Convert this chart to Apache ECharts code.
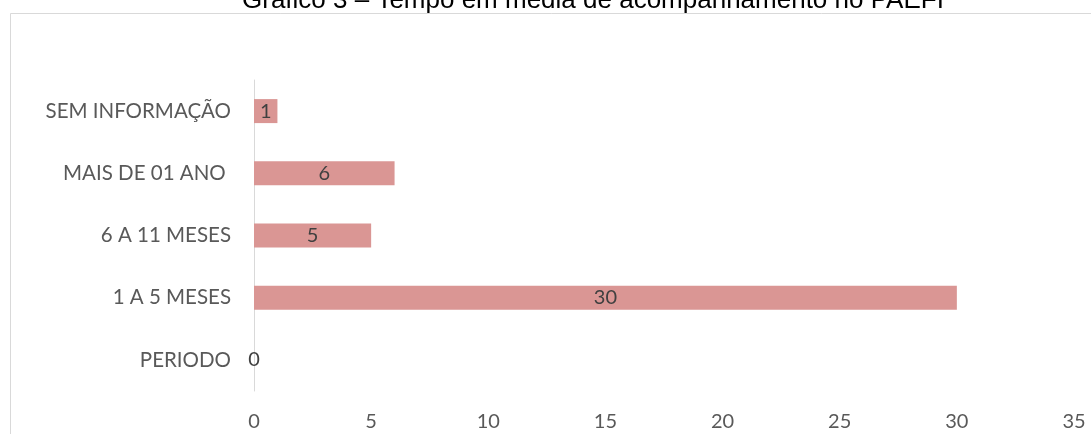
<!DOCTYPE html>
<html>
<head>
<meta charset="utf-8">
<script src="https://cdn.jsdelivr.net/npm/echarts@6/dist/echarts.min.js"></script>
<style>
html,body{margin:0;padding:0;background:#fff;}
#c{width:1091px;height:434px;}
</style>
</head>
<body>
<div id="c"></div>
<script>
const titleText = 'Gráfico 3 – Tempo em média de acompanhamento no PAEFI';
const categories = ['SEM INFORMAÇÃO', 'MAIS DE 01 ANO ', '6 A 11 MESES', '1 A 5 MESES', 'PERIODO'];
const values = [1, 6, 5, 30, 0];
const xTicks = { min: 0, max: 35, interval: 5 };

const chart = echarts.init(document.getElementById('c'), null, { renderer: 'canvas' });
chart.setOption({
  animation: false,
  backgroundColor: '#fff',
  graphic: [{
    type: 'rect', z: -1,
    shape: { x: 10.5, y: 13.5, width: 1100, height: 440 },
    style: { fill: '#fff', stroke: '#d9d9d9', lineWidth: 1 }
  }, {
    type: 'text', left: 242, top: -12,
    style: { text: titleText, font: '26px "Liberation Sans", Arial, sans-serif', fill: '#000' }
  }],
  grid: { left: 254, right: 17, top: 80, bottom: 43, containLabel: false },
  xAxis: {
    type: 'value', min: xTicks.min, max: xTicks.max, interval: xTicks.interval,
    axisLine: { show: false }, axisTick: { show: false }, splitLine: { show: false },
    axisLabel: { color: '#595959', fontSize: 20, fontFamily: 'Lato', margin: 21 }
  },
  yAxis: {
    type: 'category', data: categories, inverse: true,
    axisLine: { show: true, lineStyle: { color: '#d9d9d9', width: 1 } },
    axisTick: { show: false },
    axisLabel: { color: '#595959', fontSize: 20.5, fontFamily: 'Lato', margin: 23 }
  },
  series: [{
    type: 'bar', data: values, barWidth: 24,
    itemStyle: { color: '#da9694' },
    label: { show: true, position: 'inside', color: '#404040', fontSize: 20, fontFamily: 'Lato' }
  }]
});
</script>
</body>
</html>
